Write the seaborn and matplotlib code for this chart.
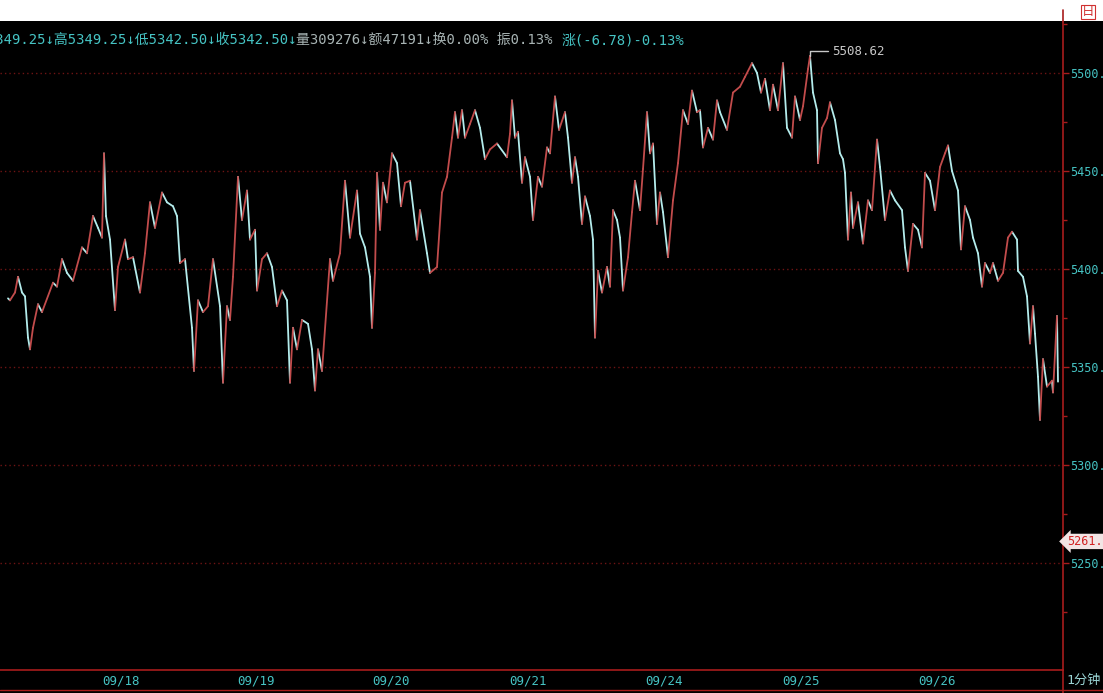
import pandas as pd
import seaborn as sns
import matplotlib.pyplot as plt
from matplotlib.lines import Line2D
from matplotlib.patches import Rectangle

# 1-minute bars, position along the time axis and price
bar = [8, 10, 15, 18, 22, 25, 28, 30, 33, 38, 42, 53, 57, 62, 67, 73, 82, 87, 93, 98,
       102, 104, 106, 110, 115, 118, 125, 128, 133, 140, 145, 150, 155, 162, 167, 173, 177, 180, 185, 192,
       194, 198, 203, 208, 213, 220, 223, 227, 230, 233, 238, 242, 247, 250, 255, 257, 262, 267, 272, 277,
       282, 287, 290, 293, 297, 302, 308, 312, 315, 318, 322, 330, 333, 340, 345, 350, 357,
       360, 365, 370, 372, 375, 377, 380, 383, 387, 392, 397, 401, 405, 410, 417, 420, 427, 430, 437, 442,
       447, 452, 455, 458, 462, 465, 470, 475, 480, 485, 490, 497, 507, 510, 512, 515, 518, 522, 525, 530,
       533, 538, 542, 547, 550, 555, 559, 565, 568, 572, 575, 578, 582, 585, 590, 593, 595, 598, 602, 607,
       610, 613, 617, 620, 623, 628, 632, 635, 640, 643, 647, 650, 653, 657, 660, 663, 668, 673, 678, 683,
       688, 692, 697, 700, 703, 708, 713, 717,
       720, 727, 733, 740, 745, 752, 757, 761, 765, 770, 773, 778, 783, 787, 792, 795, 800, 803, 808, 810,
       813, 817, 818, 822, 827, 830, 835, 840, 843, 845, 848, 851, 853, 858, 863, 868, 872, 877, 880, 885,
       890, 895, 902, 905, 908, 913, 918, 922, 925, 930, 935, 940, 945, 948, 952, 955, 958, 961, 965, 970,
       973, 978, 982, 985, 990, 993, 998, 1003, 1008, 1012, 1017, 1018, 1023, 1027, 1030, 1033, 1035, 1038,
       1040, 1043, 1047, 1052, 1053, 1057, 1058]
price = [5385, 5384, 5388, 5396, 5388, 5386, 5365, 5359, 5370, 5382, 5378, 5393, 5391, 5405, 5398, 5394, 5411, 5408, 5427, 5421,
         5416, 5459, 5427, 5415, 5379, 5401, 5415, 5405, 5406, 5388, 5408, 5434, 5421, 5439, 5434, 5432, 5427, 5403, 5405, 5370,
         5348, 5384, 5378, 5381, 5405, 5381, 5342, 5381, 5374, 5396, 5447, 5425, 5440, 5415, 5420, 5389, 5405, 5408, 5401, 5381,
         5389, 5384, 5342, 5370, 5359, 5374, 5372, 5359, 5338, 5359, 5348, 5405, 5394, 5408, 5445, 5416, 5440,
         5418, 5411, 5396, 5370, 5398, 5449, 5420, 5444, 5434, 5459, 5454, 5432, 5444, 5445, 5415, 5430, 5408, 5398, 5401, 5439,
         5447, 5467, 5480, 5467, 5481, 5467, 5474, 5481, 5472, 5456, 5461, 5464, 5457, 5469, 5486, 5467, 5470, 5444, 5457, 5447,
         5425, 5447, 5442, 5462, 5459, 5488, 5471, 5480, 5467, 5444, 5457, 5447, 5423, 5437, 5427, 5415, 5365, 5399, 5388, 5401,
         5391, 5430, 5425, 5416, 5389, 5406, 5429, 5445, 5430, 5451, 5480, 5459, 5464, 5423, 5439, 5429, 5406, 5435, 5454, 5481,
         5474, 5491, 5480, 5481, 5462, 5472, 5466, 5486,
         5480, 5471, 5490, 5493, 5498, 5505, 5500, 5490, 5497, 5481, 5494, 5481, 5505, 5472, 5467, 5488, 5476, 5483, 5502, 5508.62,
         5490, 5481, 5454, 5472, 5477, 5485, 5476, 5459, 5456, 5449, 5415, 5439, 5421, 5434, 5413, 5435, 5430, 5466, 5452, 5425,
         5440, 5435, 5430, 5411, 5399, 5423, 5420, 5411, 5449, 5445, 5430, 5452, 5459, 5463, 5450, 5445, 5440, 5410, 5432, 5425,
         5416, 5408, 5391, 5403, 5398, 5403, 5394, 5398, 5416, 5419, 5415, 5399, 5396, 5386, 5362, 5381, 5367, 5345,
         5323, 5354, 5340, 5343, 5337, 5376, 5342.5]

price_levels = [5250, 5300, 5350, 5400, 5450, 5500]
price_labels = ["5250.", "5300.", "5350.", "5400.", "5450.", "5500."]
date_pos = [121, 256, 391, 528, 664, 801, 937]
date_labels = ["09/18", "09/19", "09/20", "09/21", "09/24", "09/25", "09/26"]
header_a = "开5349.25↓高5349.25↓低5342.50↓收5342.50↓"
header_b = "量309276↓额47191↓换0.00% 振0.13% "
header_c = "涨(-6.78)-0.13%"
tag_price = 5261
tag_label = "5261."

# one short piece per minute, red when rising, light cyan when falling
rows = []
for i in range(len(bar) - 1):
    d = "up" if price[i + 1] >= price[i] else "down"
    rows.append((i, bar[i], price[i], d))
    rows.append((i, bar[i + 1], price[i + 1], d))
seg = pd.DataFrame(rows, columns=["seg", "bar", "price", "dir"])

sns.set_style("dark")
plt.rcParams['font.family'] = ['DejaVu Sans Mono', 'Noto Sans CJK SC']

W, H = 1103, 693
fig = plt.figure(figsize=(W / 100, H / 100), dpi=100, facecolor='black')

def fx(px):
    return px / W

def fy(py):
    return 1 - py / H

ax = fig.add_axes([0, fy(670), fx(1063), fy(22) - fy(670)])
ax.set_facecolor('black')

red = '#a81c1c'
cyan = '#46c4c4'

for lev in price_levels:
    ax.axhline(lev, color='#6e1414', lw=1.0, ls=(0, (1, 2.2)), zorder=0)

sns.lineplot(data=seg, x="bar", y="price", hue="dir", units="seg", estimator=None,
             palette={"up": "#c24c4c", "down": "#b4ecec"}, legend=False, lw=1.3, ax=ax)

ax.set_xlim(0, 1063)
ax.set_ylim(5195.4, 5526)
ax.grid(False)
ax.set_xlabel("")
ax.set_ylabel("")
for s in ["left", "top"]:
    ax.spines[s].set_visible(False)
for s in ["right", "bottom"]:
    ax.spines[s].set_color(red)
    ax.spines[s].set_linewidth(1.2)

ax.yaxis.tick_right()
ax.set_yticks(price_levels, price_labels)
ax.set_yticks(range(5225, 5526, 50), minor=True)
ax.tick_params(axis='y', which='major', colors=red, labelcolor=cyan, labelsize=8.5,
               length=4, width=1, pad=1)
ax.tick_params(axis='y', which='minor', colors=red, length=3, width=1)
ax.set_xticks(date_pos, date_labels)
ax.tick_params(axis='x', length=0, labelcolor=cyan, labelsize=9, pad=3)

# highest price marker
imax = price.index(max(price))
ax.annotate(f"{price[imax]:.2f}", xy=(bar[imax], price[imax]), xytext=(16, 3.5),
            textcoords='offset points', color='#c8c8c8', fontsize=9, va='center', ha='left',
            arrowprops=dict(arrowstyle='-', color='#c8c8c8', lw=1, relpos=(0, 0.5),
                            shrinkA=1, shrinkB=0,
                            connectionstyle='angle,angleA=0,angleB=90,rad=0'))

# price tag on the right axis
ax.annotate(tag_label, xy=(1.0, tag_price), xycoords=('axes fraction', 'data'),
            xytext=(3, 0), textcoords='offset points', color='#d02020', fontsize=8.5,
            va='center', ha='left', annotation_clip=False,
            bbox=dict(boxstyle='larrow,pad=0.1', fc='#f2e4e4', ec='none'))

# window frame pieces
fig.add_artist(Rectangle((0, fy(21)), 1, 21 / H, transform=fig.transFigure,
                         facecolor='white', edgecolor='none'))
fig.add_artist(Line2D([0, 1], [fy(690), fy(690)], transform=fig.transFigure, color=red, lw=1))
fig.add_artist(Line2D([fx(1063), fx(1063)], [0, fy(670)], transform=fig.transFigure, color=red, lw=1.2))
fig.add_artist(Line2D([fx(1063), fx(1063)], [fy(22), fy(10)], transform=fig.transFigure, color=red, lw=1.2))
fig.text(fx(1088), fy(12), "日", color='#d03030', fontsize=9, ha='center', va='center',
         bbox=dict(fc='none', ec='#d03030', pad=0.6, lw=0.8))
fig.text(fx(1066), fy(680), "1分钟", color='#9ad4d4', fontsize=9.5, va='center', ha='left')

# quote line at the top
t1 = fig.text(fx(-27), fy(47), header_a, color=cyan, fontsize=10, va='bottom', ha='left')
t2 = ax.annotate(header_b, xy=(1, 0), xycoords=t1, color='#a8b4b4', fontsize=10,
                 va='bottom', ha='left', annotation_clip=False)
ax.annotate(header_c, xy=(1, 0), xycoords=t2, color=cyan, fontsize=10,
            va='bottom', ha='left', annotation_clip=False)

fig.savefig("out.png", dpi=100, facecolor='black')
